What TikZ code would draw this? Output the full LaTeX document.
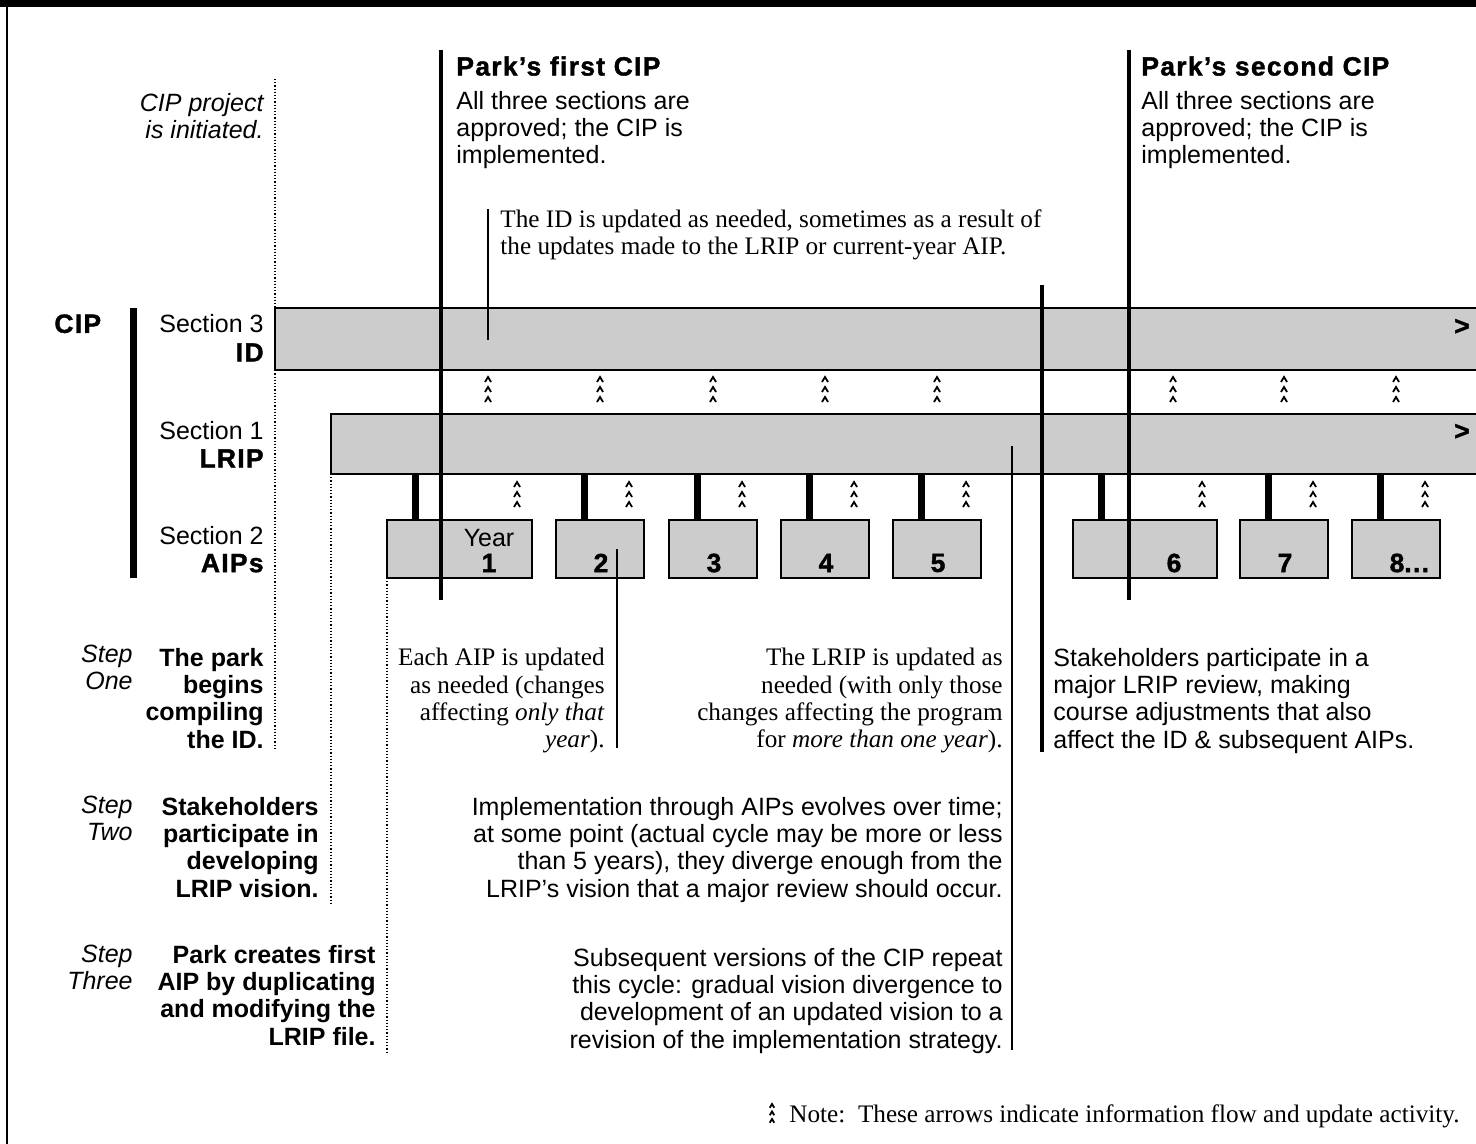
\documentclass[tikz,border=0pt]{standalone}
\usepackage{fontspec}
\setmainfont{Liberation Sans}
\newfontfamily\timesfont{Liberation Serif}
\newfontfamily\blackfont{Liberation Sans}[FakeBold=1.5,LetterSpace=5]
\usepackage{xcolor}
\definecolor{barfill}{HTML}{CCCCCC}
\usetikzlibrary{positioning}

\begin{document}
\begin{tikzpicture}[x=0.5pt,y=-0.5pt,
    font=\fontsize{12.5}{13.6}\selectfont,
    every node/.append style={inner sep=0pt},
    bar/.style={draw,line width=1pt,fill=barfill},
    aipbox/.style={bar,minimum height=29pt},
    heavy/.style={font=\fontsize{13.2}{13.6}\selectfont\blackfont\bfseries},
    serif/.style={font=\fontsize{12.6}{13.6}\selectfont\timesfont},
    steptag/.style={anchor=north east,align=right,font=\fontsize{12.5}{13.4}\selectfont\itshape},
    stepbody/.style={anchor=north east,align=right,font=\fontsize{12.5}{13.6}\selectfont\bfseries},
    stub/.style={line width=3.5pt},
    milestone/.style={line width=2pt},
    pointer/.style={line width=0.7pt},
    guide/.style={densely dotted,line width=0.6pt},
    flowmark/.pic={\foreach \k in {0,1,2}
      \draw[line width=0.9pt] (-3,\k*10+5) -- (0,\k*10) -- (3,\k*10+5);}]
  \useasboundingbox (0,0) rectangle (1476,1144);
  \fill (0,0) rectangle (1476,7);
  \draw[line width=1.25pt] (7,0) -- (7,1144);

  % dotted guides behind the bars
  \coordinate (g1) at (275,79);
  \coordinate (g2) at (331,474);
  \coordinate (g3) at (387,578);
  \draw[guide] (g1) -- ++(0,671);
  \draw[guide] (g2) -- ++(0,429);
  \draw[guide] (g3) -- ++(0,474);

  % sections
  \node[bar,minimum width=602.5pt,minimum height=31pt] (id) at (877.5,339) {};
  \node[bar,minimum width=574.5pt,minimum height=30pt] (lrip) at (905.5,444) {};
  \node[aipbox,minimum width=72.5pt] (aip1) at (459.5,549) {};
  \node[aipbox,minimum width=72pt] (aip6) at (1145,549) {};
  \foreach \i/\cx in {2/600,3/713,4/825,5/937,7/1284,8/1396}
    \node[aipbox,minimum width=44pt] (aip\i) at (\cx,549) {};
  \foreach \i/\lab in {1/1,2/2,3/3,4/4,5/5,6/6,7/7,8/8\rlap{...}}
    \node[heavy] at ([xshift=-22pt,yshift=8pt]aip\i.south east) {\lab};
  \node at ([xshift=-22pt,yshift=20.5pt]aip1.south east) {Year};
  \node[heavy] at (1462,327) {>};
  \node[heavy] at (1462,432) {>};

  \foreach \i in {1,...,8} {
    \coordinate (s\i) at ([xshift=14.5pt]aip\i.north west);
    \draw[stub] (s\i) -- (s\i |- lrip.south);
  }
  \foreach \cx in {488,600,713,825,937,1173,1284,1396}
    \pic at (\cx,377) {flowmark};
  \foreach \cx in {517,629,742,854,966,1202,1313,1425}
    \pic at (\cx,482) {flowmark};

  % row labels
  \node[heavy,anchor=north west] (cip) at (54,314) {CIP};
  \draw[line width=3.5pt] (133.5,308) -- (133.5,578);
  \node[anchor=north east,align=right,font=\fontsize{12.5}{14.5}\selectfont] (sec3) at (264,314) {Section 3\\{\fontsize{13.2}{14}\selectfont\blackfont\bfseries ID}};
  \node[anchor=north east,align=right,font=\fontsize{12.5}{14}\selectfont] (sec1) at (264,421) {Section 1\\{\fontsize{13.2}{14}\selectfont\blackfont\bfseries LRIP}};
  \node[anchor=north east,align=right,font=\fontsize{12.5}{13.8}\selectfont] (sec2) at (264,526) {Section 2\\{\fontsize{13.2}{14}\selectfont\blackfont\bfseries AIPs}};
  \node[steptag] (init) at (264,93) {CIP project\\is initiated.};

  % milestones
  \coordinate (p1top) at (441,50);
  \coordinate (p2top) at (1129,50);
  \draw[milestone] (p1top) -- ++(0,550);
  \draw[milestone] (p2top) -- ++(0,550);
  \node[heavy,anchor=north west] (park1) at (456,56) {Park’s first CIP};
  \node[anchor=north west,align=left] (park1txt) at (456,91) {All three sections are\\approved; the CIP is\\implemented.};
  \node[heavy,anchor=north west] (park2) at (1141,56) {Park’s second CIP};
  \node[anchor=north west,align=left] (park2txt) at (1141,91) {All three sections are\\approved; the CIP is\\implemented.};

  % notes on updates
  \node[serif,anchor=north west,align=left] (idnote) at (500,209) {The ID is updated as needed, sometimes as a result of\\the updates made to the LRIP or current-year AIP.};
  \draw[pointer] ([xshift=-6pt]idnote.north west) -- ++(0,131);
  \node[serif,anchor=north east,align=right] (aipnote) at (605,648) {Each AIP is updated\\as needed (changes\\affecting \textit{only that}\\\textit{year}).};
  \coordinate (a2) at (617,549);
  \draw[pointer] (a2) -- ++(0,199);
  \node[serif,anchor=north east,align=right] (lripnote) at (1003,648) {The LRIP is updated as\\needed (with only those\\changes affecting the program\\for \textit{more than one year}).};
  \node[anchor=north east,align=right] (drift) at (1003,797) {Implementation through AIPs evolves over time;\\at some point (actual cycle may be more or less\\than 5 years), they diverge enough from the\\LRIP’s vision that a major review should occur.};
  \node[anchor=north east,align=right] (cycle) at (1003,948) {Subsequent versions of the CIP repeat\\this cycle: gradual vision divergence to\\development of an updated vision to a\\revision of the implementation strategy.};
  \coordinate (l1) at (1012,446);
  \draw[pointer] (l1) -- ++(0,604);
  \coordinate (rv) at (1042,285);
  \draw[milestone] (rv) -- ++(0,467);
  \node[anchor=north west,align=left] (review) at (1053,648) {Stakeholders participate in a\\major LRIP review, making\\course adjustments that also\\affect the ID \& subsequent AIPs.};

  % steps
  \node[steptag] (step1) at (133,645) {Step\\One};
  \node[stepbody] (do1) at (264,648) {The park\\begins\\compiling\\the ID.};
  \node[steptag] (step2) at (133,796) {Step\\Two};
  \node[stepbody] (do2) at (319,797) {Stakeholders\\participate in\\developing\\LRIP vision.};
  \node[steptag] (step3) at (133,945) {Step\\Three};
  \node[stepbody] (do3) at (376,945) {Park creates first\\AIP by duplicating\\and modifying the\\LRIP file.};

  % legend
  \pic[scale=0.75] at (772,1104) {flowmark};
  \node[serif,anchor=west] (legend) at (789,1116) {Note:\ \ These arrows indicate information flow and update activity.};
\end{tikzpicture}
\end{document}
